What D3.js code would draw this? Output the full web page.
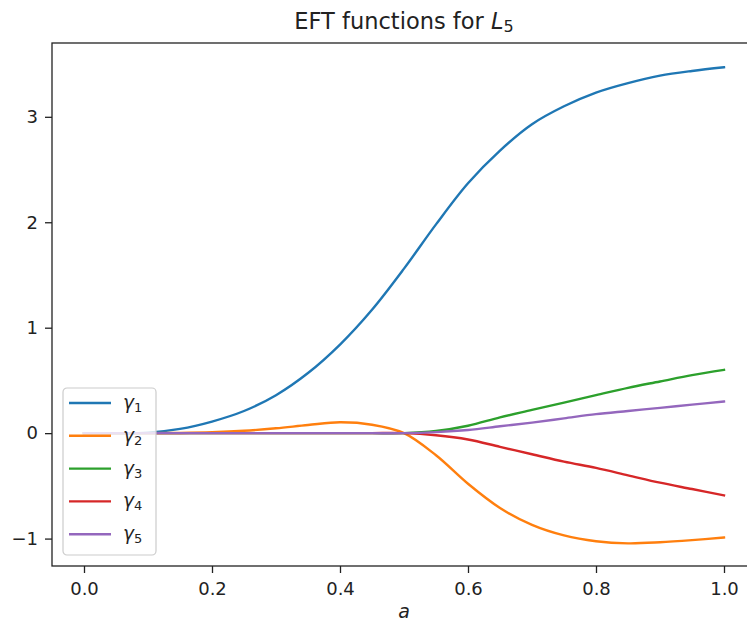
<!DOCTYPE html>
<html>
<head>
<meta charset="utf-8">
<script src="https://cdn.jsdelivr.net/npm/d3@7"></script>
<style>
  body { margin: 0; background: #fff; }
  svg { display: block; font-family: "DejaVu Sans", sans-serif; }
</style>
</head>
<body>
<div id="container"></div>
<script>
// valores (grelha em a)
const aValues = [0, 0.05, 0.1, 0.15, 0.2, 0.25, 0.3, 0.35, 0.4, 0.45, 0.5,
                 0.55, 0.6, 0.65, 0.7, 0.75, 0.8, 0.85, 0.9, 0.95, 1.0]

const gamma1 = [0, 0, 0.005, 0.04, 0.11, 0.21, 0.36, 0.57, 0.84, 1.17, 1.56,
                1.98, 2.37, 2.68, 2.93, 3.10, 3.23, 3.32, 3.39, 3.435, 3.47]
const gamma2 = [0, 0, 0, 0.002, 0.008, 0.022, 0.046, 0.077, 0.103, 0.08, 0.0,
                -0.21, -0.48, -0.71, -0.87, -0.97, -1.025, -1.045, -1.035, -1.015, -0.99]
const gamma3 = [0, 0, 0, 0, 0, 0, 0, 0, 0, 0, 0,
                0.02, 0.07, 0.15, 0.22, 0.29, 0.36, 0.43, 0.49, 0.55, 0.60]
const gamma4 = [0, 0, 0, 0, 0, 0, 0, 0, 0, 0, 0,
                -0.02, -0.06, -0.13, -0.20, -0.27, -0.33, -0.40, -0.47, -0.53, -0.59]
const gamma5 = [0, 0, 0, 0, 0, 0, 0, 0, 0, 0, 0,
                0.01, 0.03, 0.065, 0.10, 0.14, 0.18, 0.21, 0.24, 0.27, 0.30]

const seriesNames = ["1", "2", "3", "4", "5"]
const xTicks = [0.0, 0.2, 0.4, 0.6, 0.8, 1.0]
const yTicks = [-1, 0, 1, 2, 3]

const cores = ["#1f77b4", "#ff7f0e", "#2ca02c", "#d62728", "#9467bd"]

const width = 747
const height = 623
const margin = { left: 52, top: 43, right: -9, bottom: 57 }

const series = [gamma1, gamma2, gamma3, gamma4, gamma5].map((vals, i) => ({
  name: seriesNames[i],
  points: aValues.map((a, j) => [a, vals[j]])
}))

const x = d3.scaleLinear([-0.05, 1.05], [margin.left, width - margin.right])
const y = d3.scaleLinear([-1.26, 3.70], [height - margin.bottom, margin.top])

const svg = d3.create("svg")
  .attr("width", width)
  .attr("height", height)
  .attr("viewBox", [0, 0, width, height])

// linhas
const line = d3.line()
  .x(d => x(d[0]))
  .y(d => y(d[1]))
  .curve(d3.curveCatmullRom.alpha(0.5))

svg.append("g")
  .selectAll("path")
  .data(series)
  .join("path")
    .attr("d", d => line(d.points))
    .attr("fill", "none")
    .attr("stroke", (d, i) => cores[i])
    .attr("stroke-width", 2.4)
    .attr("stroke-linecap", "square")

// eixos
const xAxis = svg.append("g")
  .attr("transform", `translate(0,${height - margin.bottom})`)
  .call(d3.axisBottom(x).tickValues(xTicks).tickFormat(d3.format(".1f")).tickSizeInner(7).tickSizeOuter(0).tickPadding(9))

const yAxis = svg.append("g")
  .attr("transform", `translate(${margin.left},0)`)
  .call(d3.axisLeft(y).tickValues(yTicks).tickFormat(d => d < 0 ? "\u2212" + Math.abs(d) : d).tickSizeInner(7).tickSizeOuter(0).tickPadding(7))

for (const ax of [xAxis, yAxis]) {
  ax.selectAll("text").attr("font-size", 18).attr("fill", "#222").attr("font-family", "DejaVu Sans")
  ax.selectAll(".tick line").attr("stroke", "#222").attr("stroke-width", 1.3)
  ax.select(".domain").remove()
}

// caixa dos eixos
svg.append("rect")
  .attr("x", margin.left)
  .attr("y", margin.top)
  .attr("width", x.range()[1] - margin.left)
  .attr("height", y.range()[0] - margin.top)
  .attr("fill", "none")
  .attr("stroke", "#222")
  .attr("stroke-width", 1.3)

// título
const title = svg.append("text")
  .attr("x", (x.range()[0] + x.range()[1]) / 2)
  .attr("y", 29)
  .attr("text-anchor", "middle")
  .attr("font-size", 22.5)
  .attr("fill", "#222")
title.append("tspan").text("EFT functions for ")
title.append("tspan").attr("font-style", "italic").text("L")
title.append("tspan").attr("font-size", 16).attr("dy", 3).text("5")

// rótulo do eixo x
svg.append("text")
  .attr("x", (x.range()[0] + x.range()[1]) / 2)
  .attr("y", 618)
  .attr("text-anchor", "middle")
  .attr("font-size", 19)
  .attr("font-style", "italic")
  .attr("fill", "#222")
  .text("a")

// legenda
const leg = svg.append("g").attr("transform", "translate(63,388)")
leg.append("rect")
  .attr("width", 93)
  .attr("height", 167)
  .attr("rx", 4)
  .attr("fill", "#fff")
  .attr("fill-opacity", 0.8)
  .attr("stroke", "#cccccc")
  .attr("stroke-width", 1.2)

const item = leg.selectAll("g.item")
  .data(series)
  .join("g")
    .attr("class", "item")
    .attr("transform", (d, i) => `translate(0,${15 + i * 32.8})`)

item.append("line")
  .attr("x1", 6).attr("x2", 48)
  .attr("stroke", (d, i) => cores[i])
  .attr("stroke-width", 2.4)

const lbl = item.append("text")
  .attr("x", 60)
  .attr("y", 6)
  .attr("font-size", 18.5)
  .attr("fill", "#222")
lbl.append("tspan").attr("font-style", "italic").text("\u03b3")
lbl.append("tspan").attr("font-size", 13).attr("dy", 3).text(d => d.name)

document.getElementById("container").append(svg.node())
</script>
</body>
</html>
